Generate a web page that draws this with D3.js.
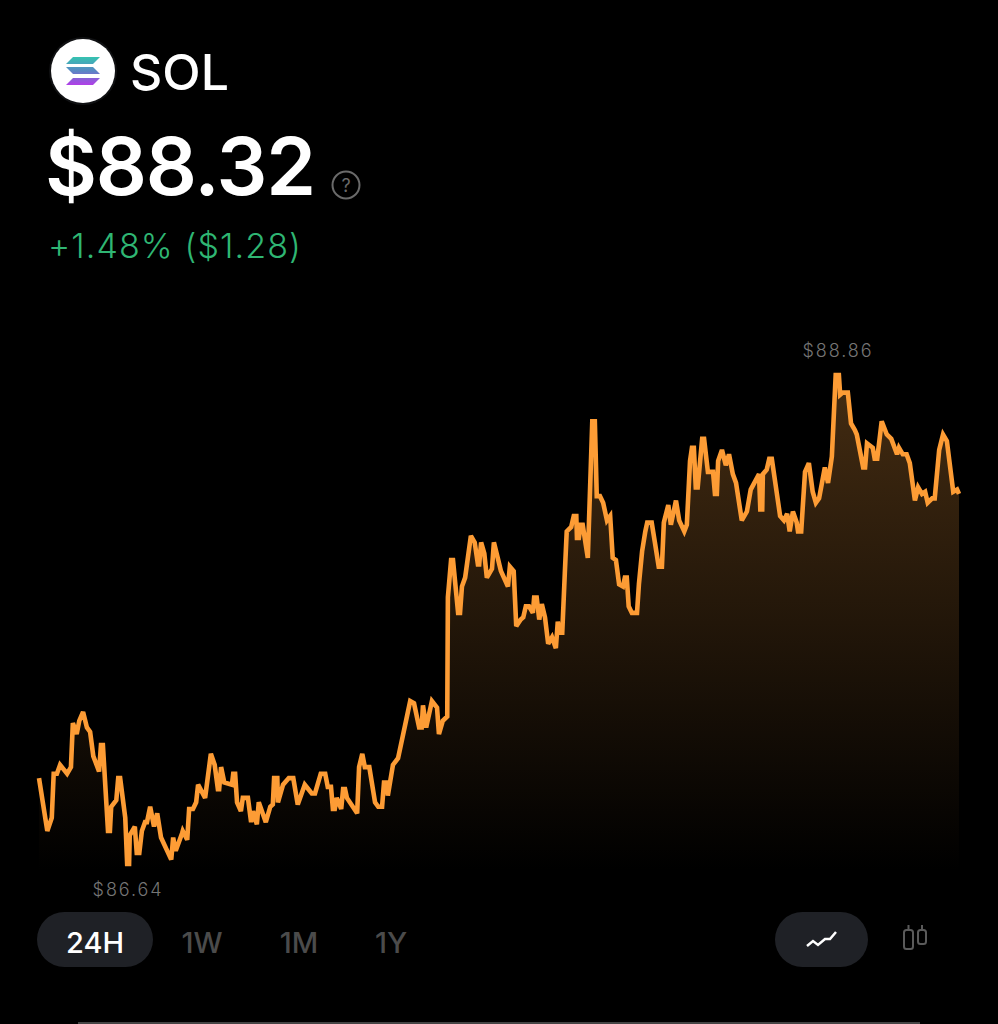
<!DOCTYPE html>
<html>
<head>
<meta charset="utf-8">
<script src="https://cdn.jsdelivr.net/npm/d3@7"></script>
<style>
  html, body { margin: 0; padding: 0; background: #000; }
  svg { display: block; }
  text { font-family: Inter, "Noto Sans", sans-serif; }
</style>
</head>
<body>
<div id="chart"></div>
<script>
// labels
const ticker = "SOL";
const lastPrice = "$88.32";
const change = "+1.48% ($1.28)";
const highLabel = "$88.86";
const lowLabel = "$86.64";
const ranges = ["24H", "1W", "1M", "1Y"];

// minutes since start of the 24h window
const minutes = [
  0,13,20,23,28,33,44,50,53,59,
  63,69,75,80,85,94,97,100,108,111,
  113,121,124,127,135,138,141,142,150,153,
  157,161,166,169,174,180,185,191,207,210,
  214,224,225,232,235,241,246,249,260,269,
  275,280,282,285,290,302,304,307,310,316,
  319,327,332,335,341,344,355,362,366,368,
  373,374,382,391,398,405,416,427,432,441,
  448,452,457,460,463,466,473,476,479,482,
  498,501,506,510,517,526,531,537,540,545,
  546,554,562,573,581,587,595,599,601,606,
  615,623,626,632,639,640,645,648,656,659,
  662,667,676,682,687,689,692,697,701,709,
  712,718,723,734,737,743,747,754,758,762,
  767,773,775,779,783,787,792,797,803,809,
  812,815,819,823,826,833,837,841,842,845,
  848,851,859,866,870,873,878,883,889,894,
  898,903,908,914,917,920,923,928,936,939,
  944,949,952,959,964,970,975,978,985,989,
  997,1002,1010,1014,1019,1022,1025,1028,1031,1038,
  1041,1047,1055,1058,1061,1063,1069,1075,1080,1086,
  1091,1100,1108,1114,1127,1129,1132,1133,1139,1143,
  1147,1160,1166,1171,1175,1180,1186,1188,1193,1199,
  1205,1211,1216,1221,1230,1235,1241,1247,1252,1254,
  1258,1266,1271,1277,1280,1290,1293,1296,1305,1308,
  1312,1319,1327,1334,1343,1346,1352,1358,1363,1371,
  1376,1382,1387,1391,1398,1402,1409,1415,1421,1431,
  1437,1440
];

// price in dollars at each of those minutes
const prices = [
  87.03,86.79,86.85,87.05,87.05,87.09,87.05,87.08,87.28,87.23,
  87.29,87.33,87.26,87.24,87.13,87.06,87.18,87.18,86.79,86.79,
  86.90,86.93,87.03,87.03,86.85,86.64,86.64,86.77,86.81,86.69,
  86.69,86.79,86.83,86.83,86.90,86.81,86.87,86.76,86.66,86.76,
  86.70,86.78,86.79,86.75,86.89,86.89,86.92,87.00,86.94,87.14,
  87.09,86.98,86.98,87.08,87.01,87.00,87.05,87.05,86.92,86.88,
  86.94,86.94,86.83,86.88,86.82,86.92,86.83,86.90,86.91,87.03,
  87.03,86.92,87.00,87.03,87.03,86.91,87.00,86.96,86.96,87.05,
  87.05,86.99,86.99,86.89,86.89,86.94,86.89,86.98,86.98,86.94,
  86.87,87.08,87.14,87.08,87.08,86.92,86.90,86.90,87.01,87.01,
  86.95,87.09,87.12,87.27,87.38,87.37,87.26,87.26,87.36,87.26,
  87.38,87.35,87.23,87.29,87.31,87.85,88.02,88.02,87.78,87.78,
  87.90,87.94,88.13,88.10,88.00,88.00,88.10,88.05,87.94,87.98,
  88.10,88.03,87.97,87.90,87.99,87.97,87.72,87.75,87.76,87.81,
  87.81,87.78,87.85,87.85,87.75,87.82,87.76,87.64,87.67,87.62,
  87.74,87.69,87.69,87.96,88.15,88.17,88.22,88.22,88.12,88.12,
  88.18,88.18,88.03,88.65,88.65,88.31,88.31,88.28,88.20,88.22,
  88.03,88.02,87.91,87.90,87.94,87.94,87.81,87.78,87.78,87.91,
  88.06,88.15,88.19,88.19,88.10,87.99,87.99,88.19,88.27,88.18,
  88.29,88.20,88.15,88.18,88.47,88.53,88.53,88.35,88.35,88.57,
  88.57,88.42,88.42,88.32,88.32,88.47,88.52,88.45,88.50,88.41,
  88.37,88.20,88.24,88.34,88.41,88.25,88.25,88.41,88.43,88.48,
  88.48,88.22,88.20,88.23,88.15,88.24,88.19,88.15,88.15,88.42,
  88.46,88.33,88.28,88.30,88.44,88.37,88.49,88.86,88.86,88.77,
  88.78,88.78,88.64,88.61,88.59,88.44,88.44,88.55,88.53,88.48,
  88.48,88.65,88.59,88.57,88.50,88.53,88.50,88.50,88.46,88.29,
  88.35,88.32,88.33,88.28,88.30,88.30,88.52,88.59,88.56,88.33,
  88.34,88.32
];

const width = 998, height = 1024;

const svg = d3.select("#chart").append("svg")
    .attr("width", width)
    .attr("height", height)
    .style("background", "#000");

const defs = svg.append("defs");

// area fade under the line
const fade = defs.append("linearGradient")
    .attr("id", "fade")
    .attr("gradientUnits", "userSpaceOnUse")
    .attr("x1", 0).attr("x2", 0)
    .attr("y1", 375).attr("y2", 870);
fade.append("stop").attr("offset", 0).attr("stop-color", "#442c12");
fade.append("stop").attr("offset", 1).attr("stop-color", "#000");

// scales
const x = d3.scaleLinear().domain([0, 1440]).range([39, 959]);
const y = d3.scaleLinear().domain([86.64, 88.86]).range([864, 375]);

const data = minutes.map((m, i) => ({ m: m, p: prices[i] }));

const area = d3.area()
    .x(d => x(d.m))
    .y0(870)
    .y1(d => y(d.p));

const line = d3.line()
    .x(d => x(d.m))
    .y(d => y(d.p));

svg.append("path")
    .attr("d", area(data))
    .attr("fill", "url(#fade)");

svg.append("path")
    .attr("d", line(data))
    .attr("fill", "none")
    .attr("stroke", "#fd9c35")
    .attr("stroke-width", 4.6)
    .attr("stroke-linejoin", "miter")
    .attr("stroke-miterlimit", 3);

// high / low labels
svg.append("text")
    .attr("x", 838).attr("y", 357)
    .attr("text-anchor", "middle")
    .attr("font-size", 18)
    .attr("font-weight", 300)
    .attr("letter-spacing", 1.9)
    .attr("fill", "#757575")
    .text(highLabel);

svg.append("text")
    .attr("x", 128).attr("y", 896)
    .attr("text-anchor", "middle")
    .attr("font-size", 18)
    .attr("font-weight", 300)
    .attr("letter-spacing", 1.9)
    .attr("fill", "#757575")
    .text(lowLabel);

// header
const logo = svg.append("g").attr("transform", "translate(83,71)");
logo.append("circle").attr("r", 34).attr("fill", "#101113");
logo.append("circle").attr("r", 32).attr("fill", "#fff");

const sol = defs.append("linearGradient")
    .attr("id", "sol")
    .attr("gradientUnits", "userSpaceOnUse")
    .attr("x1", 0).attr("x2", 0)
    .attr("y1", -14).attr("y2", 14);
sol.append("stop").attr("offset", 0).attr("stop-color", "#35c3b0");
sol.append("stop").attr("offset", 0.5).attr("stop-color", "#5a86c4");
sol.append("stop").attr("offset", 1).attr("stop-color", "#b13ee8");

// three slanted bars of the token mark
logo.append("path").attr("d", "M-10,-14H17L10,-7H-17Z").attr("fill", "url(#sol)");
logo.append("path").attr("d", "M-17,-4H10L17,3H-10Z").attr("fill", "url(#sol)");
logo.append("path").attr("d", "M-10,7H17L10,14H-17Z").attr("fill", "url(#sol)");

svg.append("text")
    .attr("x", 130).attr("y", 90)
    .attr("font-size", 50)
    .attr("font-weight", 500)
    .attr("fill", "#fff")
    .text(ticker);

svg.append("text")
    .attr("x", 45).attr("y", 195)
    .attr("font-size", 80)
    .attr("font-weight", 600)
    .attr("letter-spacing", -1.2)
    .attr("fill", "#fff")
    .text(lastPrice);

const help = svg.append("g").attr("transform", "translate(346,185)");
help.append("circle").attr("r", 13.5).attr("fill", "none").attr("stroke", "#6a6a6a").attr("stroke-width", 2);
help.append("text")
    .attr("y", 6.5)
    .attr("text-anchor", "middle")
    .attr("font-size", 18)
    .attr("fill", "#6a6a6a")
    .text("?");

svg.append("text")
    .attr("x", 48).attr("y", 258)
    .attr("font-size", 34)
    .attr("font-weight", 300)
    .attr("letter-spacing", 1.1)
    .attr("fill", "#2fb673")
    .text(change);

// range buttons
svg.append("rect")
    .attr("x", 37).attr("y", 912)
    .attr("width", 116).attr("height", 55)
    .attr("rx", 27.5)
    .attr("fill", "#1f2126");

const rangeX = d3.scaleOrdinal().domain(ranges).range([95, 202, 299, 391]);

svg.selectAll(".range")
    .data(ranges)
    .enter().append("text")
    .attr("class", "range")
    .attr("x", d => rangeX(d))
    .attr("y", 953)
    .attr("text-anchor", "middle")
    .attr("font-size", 29)
    .attr("font-weight", 500)
    .attr("fill", (d, i) => i == 0 ? "#fff" : "#4b4b4b")
    .text(d => d);

// line / candle toggle
svg.append("rect")
    .attr("x", 775).attr("y", 912)
    .attr("width", 93).attr("height", 55)
    .attr("rx", 27.5)
    .attr("fill", "#1f2126");

svg.append("path")
    .attr("d", "M807,946L813,941L818,945L825,939L830,939L836,932")
    .attr("fill", "none")
    .attr("stroke", "#fff")
    .attr("stroke-width", 2.5);

const candles = svg.append("g")
    .attr("fill", "none")
    .attr("stroke", "#5a5a5a")
    .attr("stroke-width", 2);
candles.append("rect").attr("x", 904).attr("y", 930).attr("width", 9).attr("height", 19).attr("rx", 2.5);
candles.append("line").attr("x1", 908.5).attr("x2", 908.5).attr("y1", 925).attr("y2", 930);
candles.append("rect").attr("x", 918).attr("y", 930).attr("width", 8).attr("height", 14).attr("rx", 2.5);
candles.append("line").attr("x1", 922).attr("x2", 922).attr("y1", 925).attr("y2", 930);

// strip along the bottom edge
svg.append("rect")
    .attr("x", 78).attr("y", 1022)
    .attr("width", 842).attr("height", 2)
    .attr("fill", "#444");
</script>
</body>
</html>
